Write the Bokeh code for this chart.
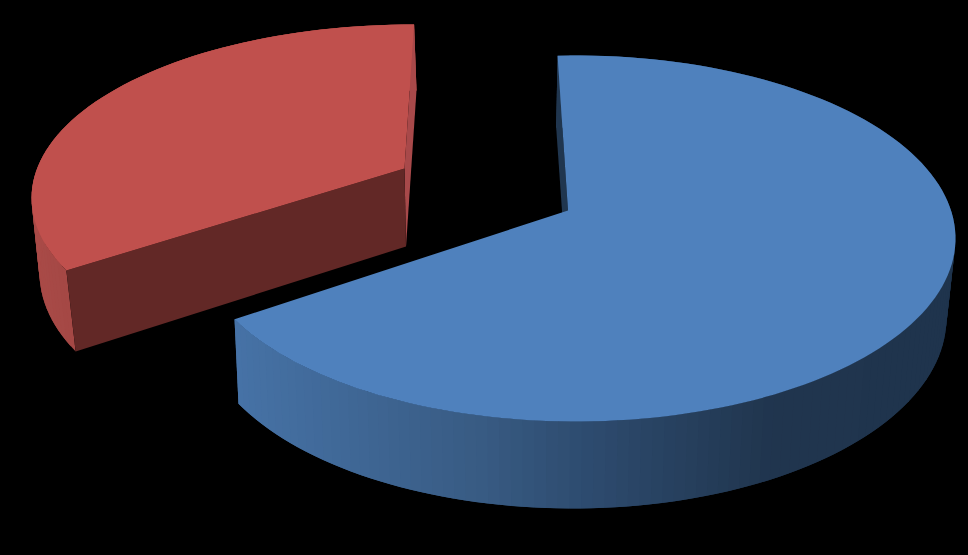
import numpy as np
from bokeh.plotting import figure
from bokeh.embed import file_html
from bokeh.resources import INLINE

# Data: share of each pie slice
slices = ["Blue", "Red"]
shares = [68.2, 31.8]

# Colours
top_colors = ["#4f81bd", "#c0504d"]
sliver_colors = ["#20364f", "#a8494a"]
inner_color_red = "#622826"
side_stops_x = [[238, 480, 580, 770, 950], [30, 80]]
side_stops_rgb = [
    [(70, 114, 166), (56, 91, 131), (46, 76, 112), (32, 53, 78), (31, 52, 77)],
    [(170, 75, 72), (163, 71, 68)],
]

# Projection of each slice: ellipse (cx, cy, rx, ry, start deg, sweep gain), top rim and bottom rim,
# and its apex on the top and bottom face
top_rims = [(575, 238, 380, 183, -2.7, 1.004), (412, 197.5, 381, 173.5, 245.3, 1.004)]
bottom_rims = [(572, 317.5, 374, 190.5, -2.5, 1.001), (410, 272.5, 371, 182.5, 244.5, 1.017)]
apex_top = [(567.5, 210), (404, 168)]
apex_bottom = [(567.5, 296), (405.5, 246)]


def rim(ring, share, n):
    cx, cy, rx, ry, start, gain = ring
    t = np.radians(np.linspace(start, start + gain * 360 * share / sum(shares), n))
    return cx + rx * np.sin(t), cy - ry * np.cos(t)


p = figure(
    width=968, height=555, x_range=(0, 968), y_range=(555, 0),
    output_backend="svg", toolbar_location=None,
    background_fill_color="#000000", border_fill_color="#000000",
    min_border=0, outline_line_color=None,
)
p.axis.visible = False
p.grid.visible = False

# Far slice first, then the near one
for i in [1, 0]:
    share = shares[i]
    n = int(round(share * 2)) + 2
    tx, ty = rim(top_rims[i], share, n)
    bx, by = rim(bottom_rims[i], share, n)

    # Outer side as shaded bands; each band reaches under the next one so no seam shows
    xs, ys, cols = [], [], []
    stops = np.array(side_stops_rgb[i], dtype=float)
    for k in range(n - 1):
        e = min(k + 2, n - 1)
        xs.append([tx[k], tx[e], bx[e], bx[k]])
        ys.append([ty[k], ty[e], by[e], by[k]])
        mx = (tx[k] + tx[k + 1] + bx[k] + bx[k + 1]) / 4
        rgb = [np.interp(mx, side_stops_x[i], stops[:, c]) for c in range(3)]
        cols.append("#%02x%02x%02x" % tuple(int(round(v)) for v in rgb))
    p.patches(xs, ys, fill_color=cols, line_color=None)

    # Thin back wall visible at the upper end of the slice
    j = 0 if i == 0 else -1
    sx = [tx[j], bx[j], apex_bottom[i][0], apex_top[i][0]]
    sy = [ty[j], by[j], apex_bottom[i][1], apex_top[i][1]]
    p.patch(sx, sy, fill_color=sliver_colors[i], line_color=None)

    # Inner wall facing the viewer (only the far slice shows one)
    if i == 1:
        wx = [tx[0], apex_top[i][0], apex_bottom[i][0], bx[0]]
        wy = [ty[0], apex_top[i][1], apex_bottom[i][1], by[0]]
        p.patch(wx, wy, fill_color=inner_color_red, line_color=None)

    # Top face
    fx = np.concatenate([[apex_top[i][0]], tx])
    fy = np.concatenate([[apex_top[i][1]], ty])
    p.patch(fx, fy, fill_color=top_colors[i], line_color=None)

html = file_html(p, INLINE)
html = html.replace("<head>", "<head><style>html,body{background:#000000;}</style>", 1)
open("out.html", "w").write(html)
